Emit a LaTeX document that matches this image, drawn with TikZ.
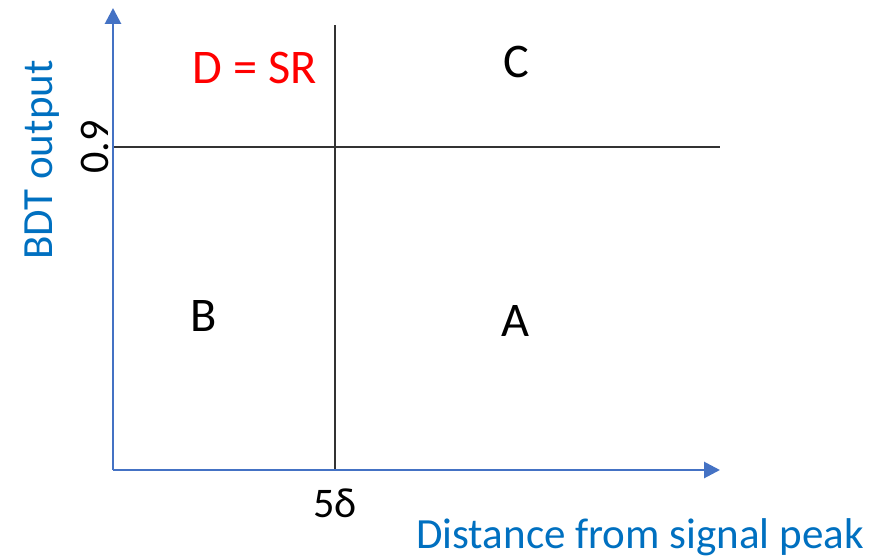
\documentclass[tikz,border=0pt]{standalone}
\usepackage{fontspec}
\setmainfont{Carlito}
\usepackage{tikz}
\usetikzlibrary{arrows.meta, positioning}
\definecolor{axisblue}{HTML}{4472C4}
\definecolor{labelblue}{HTML}{0070C0}

\begin{document}
\begin{tikzpicture}[
        x=0.02cm, y=-0.02cm,
        axis/.style = {-{Triangle[length=0.32cm, width=0.32cm]}, line width=1.6pt, draw=axisblue},
        cut/.style = {draw=black!80, line width=0.7pt},
        region/.style = {font=\fontsize{27.5}{32}\selectfont, inner sep=0pt},
        axislabel/.style = {font=\fontsize{24.5}{29}\selectfont, text=labelblue, inner sep=0pt},
        ticklabel/.style = {font=\fontsize{24}{28}\selectfont, inner sep=0pt}
    ]
    \useasboundingbox (0,0) rectangle (892,558);
    \coordinate (origin) at (113,470);
    \coordinate (ytop) at (113,8);
    \coordinate (xend) at (720,470);
    \coordinate (cuttop) at (335,25);
    \coordinate (cutbot) at (335,470);
    \coordinate (thrleft) at (113,147);
    \coordinate (thrright) at (720,147);

    % cut lines
    \draw[cut] (cuttop) -- (cutbot);
    \draw[cut] (thrleft) -- (thrright);

    % axes
    \draw[axis] (origin) -- (ytop);
    \draw[axis] (origin) -- (xend);

    % regions
    \node[region, text=red] (regD) at (255,68) {D = SR};
    \node[region] (regC) at (516,62) {C};
    \node[region] (regB) at (204,316) {B};
    \node[region] (regA) at (515,321) {A};

    % ticks and axis titles
    \node[ticklabel, rotate=90] (tick09) at (95,147) {0.9};
    \node[ticklabel] (tick5d) at (335,503) {5δ};
    \node[axislabel, rotate=90] (ytitle) at (42,160) {BDT output};
    \node[axislabel] (xtitle) at (640,537) {Distance from signal peak};
\end{tikzpicture}
\end{document}
